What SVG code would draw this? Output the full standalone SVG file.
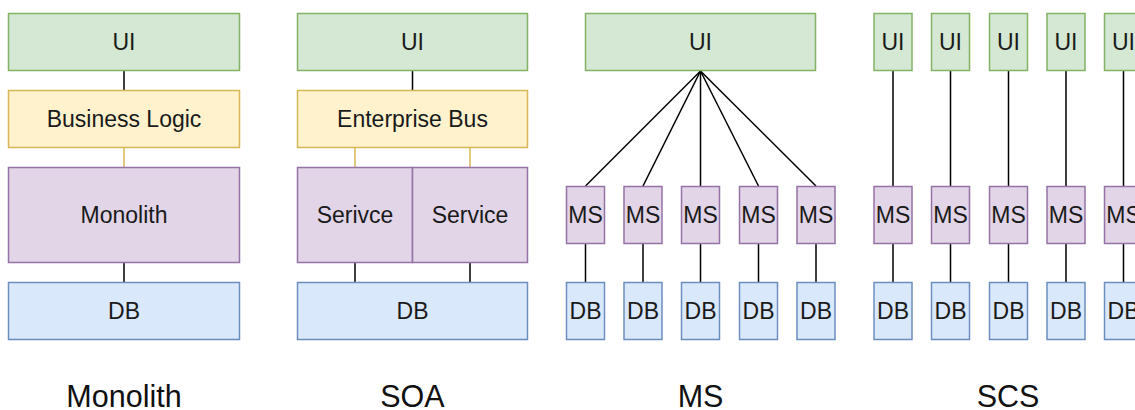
<svg xmlns="http://www.w3.org/2000/svg" width="1135" height="410" viewBox="0 0 1135 410">
  <style>
    .ui { fill: #d5e8d4; stroke: #82b366; stroke-width: 1.5; }
    .biz { fill: #fff2cc; stroke: #d6b656; stroke-width: 1.5; }
    .svc { fill: #e1d5e7; stroke: #9673a6; stroke-width: 1.5; }
    .db { fill: #dae8fc; stroke: #6c8ebf; stroke-width: 1.5; }
    .lbl { font-family: "Liberation Sans", Arial, sans-serif; font-size: 23px; fill: #1a1a1a; text-anchor: middle; }
    .title { font-family: "Liberation Sans", Arial, sans-serif; font-size: 30.5px; fill: #111; text-anchor: middle; }
    .wire { stroke: #000; stroke-width: 1.5; fill: none; }
    .wire-y { stroke: #d6b656; stroke-width: 1.5; fill: none; }
  </style>

  <rect width="1135" height="410" fill="#ffffff"/>

  <!-- connectors -->
  <g id="connectors">
    <!-- Monolith stack -->
    <line class="wire" x1="124" y1="71" x2="124" y2="90"/>
    <line class="wire-y" x1="124" y1="148" x2="124" y2="167"/>
    <line class="wire" x1="124" y1="263" x2="124" y2="282"/>
    <!-- SOA stack -->
    <line class="wire" x1="412.5" y1="71" x2="412.5" y2="90"/>
    <line class="wire-y" x1="355" y1="148" x2="355" y2="167"/>
    <line class="wire-y" x1="470" y1="148" x2="470" y2="167"/>
    <line class="wire" x1="355" y1="263" x2="355" y2="282"/>
    <line class="wire" x1="470" y1="263" x2="470" y2="282"/>
    <!-- MS fan-out -->
    <line class="wire" x1="700.5" y1="71" x2="585.5" y2="186"/>
    <line class="wire" x1="700.5" y1="71" x2="643" y2="186"/>
    <line class="wire" x1="700.5" y1="71" x2="700.5" y2="186"/>
    <line class="wire" x1="700.5" y1="71" x2="758.5" y2="186"/>
    <line class="wire" x1="700.5" y1="71" x2="816" y2="186"/>
    <line class="wire" x1="585.5" y1="244" x2="585.5" y2="282"/>
    <line class="wire" x1="643" y1="244" x2="643" y2="282"/>
    <line class="wire" x1="700.5" y1="244" x2="700.5" y2="282"/>
    <line class="wire" x1="758.5" y1="244" x2="758.5" y2="282"/>
    <line class="wire" x1="816" y1="244" x2="816" y2="282"/>
    <!-- SCS verticals -->
    <path class="wire" d="M893 71V186M893 244V282M950.5 71V186M950.5 244V282M1008.5 71V186M1008.5 244V282M1066 71V186M1066 244V282M1123.5 71V186M1123.5 244V282"/>
  </g>

  <!-- Monolith -->
  <g id="mono-ui"><rect class="ui" x="8.5" y="13.5" width="231" height="57"/><text class="lbl" x="124" y="50">UI</text></g>
  <g id="mono-logic"><rect class="biz" x="8.5" y="90.5" width="231" height="57"/><text class="lbl" x="124" y="127">Business Logic</text></g>
  <g id="mono-core"><rect class="svc" x="8.5" y="167.5" width="231" height="95"/><text class="lbl" x="124" y="223">Monolith</text></g>
  <g id="mono-db"><rect class="db" x="8.5" y="282.5" width="231" height="57"/><text class="lbl" x="124" y="319">DB</text></g>

  <!-- SOA -->
  <g id="soa-ui"><rect class="ui" x="297.5" y="13.5" width="230" height="57"/><text class="lbl" x="412.5" y="50">UI</text></g>
  <g id="soa-bus"><rect class="biz" x="297.5" y="90.5" width="230" height="57"/><text class="lbl" x="412.5" y="127">Enterprise Bus</text></g>
  <g id="soa-svc1"><rect class="svc" x="297.5" y="167.5" width="115" height="95"/><text class="lbl" x="355" y="223">Serivce</text></g>
  <g id="soa-svc2"><rect class="svc" x="412.5" y="167.5" width="115" height="95"/><text class="lbl" x="470" y="223">Service</text></g>
  <g id="soa-db"><rect class="db" x="297.5" y="282.5" width="230" height="57"/><text class="lbl" x="412.5" y="319">DB</text></g>

  <!-- MS -->
  <g id="ms-ui"><rect class="ui" x="585.5" y="13.5" width="230" height="57"/><text class="lbl" x="700.5" y="50">UI</text></g>
  <g id="ms-svc1"><rect class="svc" x="566.5" y="186.5" width="38" height="57"/><text class="lbl" x="585.5" y="223">MS</text></g>
  <g id="ms-svc2"><rect class="svc" x="624" y="186.5" width="38" height="57"/><text class="lbl" x="643" y="223">MS</text></g>
  <g id="ms-svc3"><rect class="svc" x="681.5" y="186.5" width="38" height="57"/><text class="lbl" x="700.5" y="223">MS</text></g>
  <g id="ms-svc4"><rect class="svc" x="739.5" y="186.5" width="38" height="57"/><text class="lbl" x="758.5" y="223">MS</text></g>
  <g id="ms-svc5"><rect class="svc" x="797" y="186.5" width="38" height="57"/><text class="lbl" x="816" y="223">MS</text></g>
  <g id="ms-db1"><rect class="db" x="566.5" y="282.5" width="38" height="57"/><text class="lbl" x="585.5" y="319">DB</text></g>
  <g id="ms-db2"><rect class="db" x="624" y="282.5" width="38" height="57"/><text class="lbl" x="643" y="319">DB</text></g>
  <g id="ms-db3"><rect class="db" x="681.5" y="282.5" width="38" height="57"/><text class="lbl" x="700.5" y="319">DB</text></g>
  <g id="ms-db4"><rect class="db" x="739.5" y="282.5" width="38" height="57"/><text class="lbl" x="758.5" y="319">DB</text></g>
  <g id="ms-db5"><rect class="db" x="797" y="282.5" width="38" height="57"/><text class="lbl" x="816" y="319">DB</text></g>

  <!-- SCS -->
  <g id="scs-ui1"><rect class="ui" x="874" y="13.5" width="38" height="57"/><text class="lbl" x="893" y="50">UI</text></g>
  <g id="scs-ui2"><rect class="ui" x="931.5" y="13.5" width="38" height="57"/><text class="lbl" x="950.5" y="50">UI</text></g>
  <g id="scs-ui3"><rect class="ui" x="989.5" y="13.5" width="38" height="57"/><text class="lbl" x="1008.5" y="50">UI</text></g>
  <g id="scs-ui4"><rect class="ui" x="1047" y="13.5" width="38" height="57"/><text class="lbl" x="1066" y="50">UI</text></g>
  <g id="scs-ui5"><rect class="ui" x="1104.5" y="13.5" width="38" height="57"/><text class="lbl" x="1123.5" y="50">UI</text></g>
  <g id="scs-svc1"><rect class="svc" x="874" y="186.5" width="38" height="57"/><text class="lbl" x="893" y="223">MS</text></g>
  <g id="scs-svc2"><rect class="svc" x="931.5" y="186.5" width="38" height="57"/><text class="lbl" x="950.5" y="223">MS</text></g>
  <g id="scs-svc3"><rect class="svc" x="989.5" y="186.5" width="38" height="57"/><text class="lbl" x="1008.5" y="223">MS</text></g>
  <g id="scs-svc4"><rect class="svc" x="1047" y="186.5" width="38" height="57"/><text class="lbl" x="1066" y="223">MS</text></g>
  <g id="scs-svc5"><rect class="svc" x="1104.5" y="186.5" width="38" height="57"/><text class="lbl" x="1123.5" y="223">MS</text></g>
  <g id="scs-db1"><rect class="db" x="874" y="282.5" width="38" height="57"/><text class="lbl" x="893" y="319">DB</text></g>
  <g id="scs-db2"><rect class="db" x="931.5" y="282.5" width="38" height="57"/><text class="lbl" x="950.5" y="319">DB</text></g>
  <g id="scs-db3"><rect class="db" x="989.5" y="282.5" width="38" height="57"/><text class="lbl" x="1008.5" y="319">DB</text></g>
  <g id="scs-db4"><rect class="db" x="1047" y="282.5" width="38" height="57"/><text class="lbl" x="1066" y="319">DB</text></g>
  <g id="scs-db5"><rect class="db" x="1104.5" y="282.5" width="38" height="57"/><text class="lbl" x="1123.5" y="319">DB</text></g>

  <!-- column titles -->
  <g id="titles">
    <text class="title" x="124" y="407">Monolith</text>
    <text class="title" x="412.5" y="407">SOA</text>
    <text class="title" x="700.5" y="407">MS</text>
    <text class="title" x="1008" y="407">SCS</text>
  </g>
</svg>
